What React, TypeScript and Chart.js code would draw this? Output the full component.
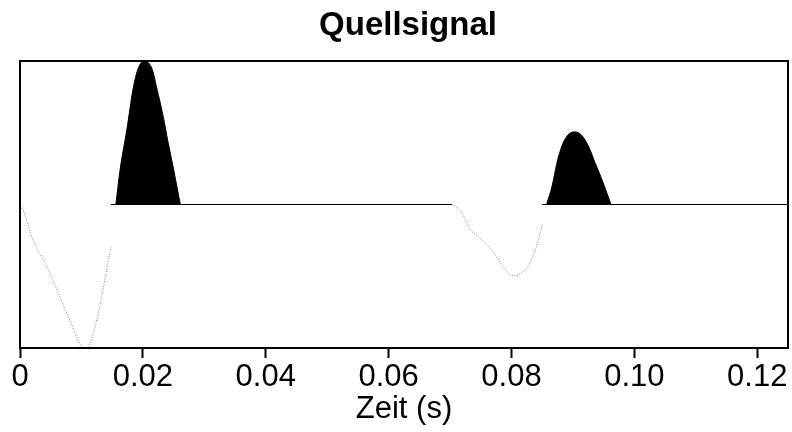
import React, { useEffect, useRef } from "react";
import { Chart, registerables } from "chart.js";

Chart.register(...registerables);

const titleText = "Quellsignal";
const xAxisTitle = "Zeit (s)";
const tickValues = [0, 0.02, 0.04, 0.06, 0.08, 0.1, 0.12];
const tickLabels = ["0", "0.02", "0.04", "0.06", "0.08", "0.10", "0.12"];

// negative lobes (thin grey trace)
const neg1T = [0, 0.0003, 0.0021, 0.0044, 0.0065, 0.0081, 0.0101, 0.0106, 0.0111, 0.0125, 0.0135, 0.0143, 0.0148];
const neg1V = [0, -0.014, -0.245, -0.434, -0.643, -0.804, -0.993, -1.0, -0.993, -0.804, -0.594, -0.406, -0.294];
const neg2T = [0.0703, 0.0716, 0.0733, 0.0746, 0.0765, 0.0782, 0.0798, 0.0806, 0.0811, 0.0826, 0.0839, 0.085];
const neg2V = [0, -0.035, -0.175, -0.224, -0.301, -0.406, -0.49, -0.497, -0.49, -0.434, -0.315, -0.14];

// positive lobes (black filled)
const pos1T = [0.0156, 0.0163, 0.0174, 0.0184, 0.0192, 0.0202, 0.0215, 0.0223, 0.0233, 0.0241, 0.0249, 0.0261];
const pos1V = [0, 0.245, 0.524, 0.804, 0.944, 1.0, 0.944, 0.804, 0.615, 0.434, 0.266, 0];
const pos2T = [0.0857, 0.0866, 0.0874, 0.0882, 0.0893, 0.0904, 0.0915, 0.0925, 0.0936, 0.0947, 0.0955, 0.0962];
const pos2V = [0, 0.128, 0.291, 0.408, 0.49, 0.506, 0.478, 0.408, 0.291, 0.175, 0.082, 0];

// zero baseline segments
const zeroT = [0.0148, 0.0703, 0.078, 0.085, 0.125];
const zeroV: (number | null)[] = [0, 0, null, 0, 0];

const FONT = "'Liberation Sans', Arial, Helvetica, sans-serif";

const pts = (t: number[], v: (number | null)[]) => t.map((x, i) => ({ x, y: v[i] }));

const framePlugin = {
  id: "frameAndTitle",
  afterDraw(chart: any) {
    const { ctx, chartArea } = chart;
    ctx.save();
    ctx.strokeStyle = "#000";
    ctx.lineWidth = 2;
    ctx.strokeRect(chartArea.left, chartArea.top, chartArea.right - chartArea.left, chartArea.bottom - chartArea.top);
    ctx.fillStyle = "#000";
    ctx.font = `bold 33px ${FONT}`;
    ctx.textAlign = "center";
    ctx.textBaseline = "alphabetic";
    ctx.fillText(titleText, 408, 35);
    ctx.restore();
  },
};

export default function App() {
  const ref = useRef<HTMLCanvasElement>(null);
  useEffect(() => {
    if (!ref.current) return;
    const negStyle = {
      borderColor: "#808080",
      borderWidth: 1,
      borderDash: [1, 1.5],
      pointRadius: 0,
      fill: false,
      cubicInterpolationMode: "monotone" as const,
    };
    const posStyle = {
      borderColor: "#000",
      backgroundColor: "#000",
      borderWidth: 1,
      pointRadius: 0,
      fill: "origin",
      cubicInterpolationMode: "monotone" as const,
    };
    const chart = new Chart(ref.current, {
      type: "line",
      data: {
        datasets: [
          { ...negStyle, data: pts(neg1T, neg1V) },
          { ...negStyle, data: pts(neg2T, neg2V) },
          { borderColor: "#000", borderWidth: 1.2, pointRadius: 0, fill: false, spanGaps: false, data: pts(zeroT, zeroV) },
          { ...posStyle, data: pts(pos1T, pos1V) },
          { ...posStyle, data: pts(pos2T, pos2V) },
        ] as any,
      },
      options: {
        animation: false,
        responsive: false,
        layout: { padding: { left: 20, right: 4, top: 61, bottom: 0 } },
        plugins: { legend: { display: false }, tooltip: { enabled: false }, title: { display: false } },
        scales: {
          x: {
            type: "linear",
            min: 0,
            max: 0.125,
            afterBuildTicks: (scale: any) => {
              scale.ticks = tickValues.map((v) => ({ value: v }));
            },
            afterFit: (scale: any) => {
              scale.height = 84;
            },
            ticks: {
              color: "#000",
              font: { family: FONT, size: 31 },
              padding: 1,
              maxRotation: 0,
              autoSkip: false,
              callback: (_v: any, i: number) => tickLabels[i],
            },
            grid: { drawOnChartArea: false, tickLength: 10, tickWidth: 2, color: "#000" },
            border: { display: false },
            title: {
              display: true,
              text: xAxisTitle,
              color: "#000",
              font: { family: FONT, size: 31 },
              padding: { top: 0, bottom: 4 },
            },
          },
          y: {
            type: "linear",
            min: -1,
            max: 1,
            display: false,
          },
        },
      },
      plugins: [framePlugin],
    });
    return () => chart.destroy();
  }, []);
  return (
    <div style={{ position: "fixed", left: 0, top: 0, width: 792, height: 432, background: "#fff" }}>
      <canvas ref={ref} width={792} height={432} style={{ width: 792, height: 432 }} />
    </div>
  );
}
